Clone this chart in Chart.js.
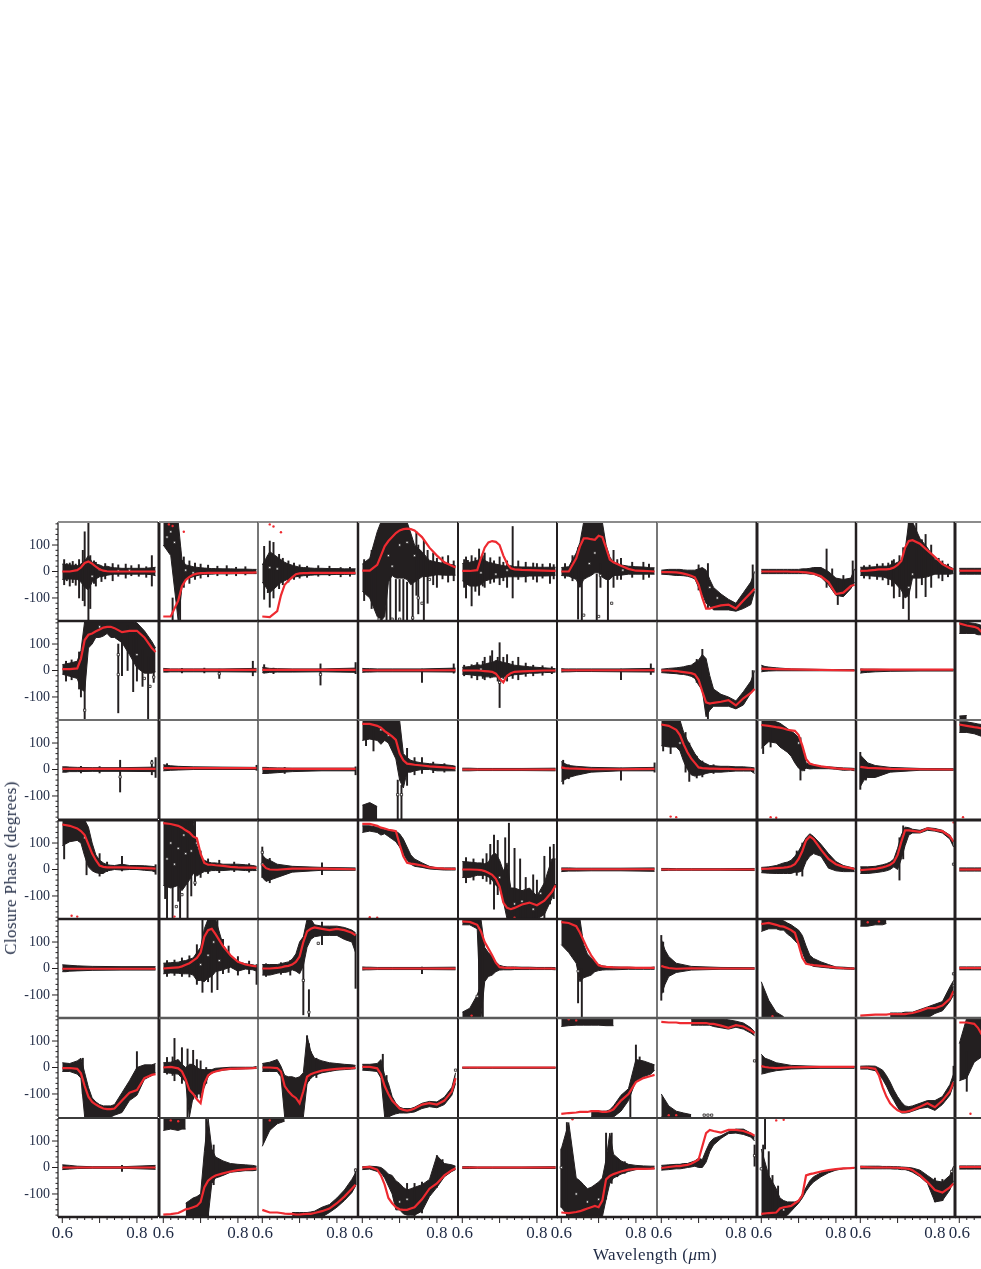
<!DOCTYPE html>
<html>
<head>
<meta charset="utf-8">
<title>Closure Phase</title>
<script src="https://cdn.jsdelivr.net/npm/chart.js@4"></script>
<style>
html, body { margin: 0; background: #fff; }
#plot { position: absolute; left: 0; top: 0; width: 981px; height: 1269px; overflow: hidden; }
#plot canvas { position: absolute; }
.axisTitle { position: absolute; font-family: "Liberation Serif", serif; font-size: 17px; color: #1f2a44; white-space: nowrap; letter-spacing: 0.4px; }
#yTitle { left: 11px; top: 868px; transform: translate(-50%, -50%) rotate(-90deg); }
#xTitle { left: 655px; top: 1255px; transform: translate(-50%, -50%); }
</style>
</head>
<body>
<div id="plot"></div>
<div class="axisTitle" id="yTitle">Closure Phase (degrees)</div>
<div class="axisTitle" id="xTitle">Wavelength (<i>μ</i>m)</div>
<script>
const wavelengths = [0.60,0.62,0.64,0.65,0.66,0.67,0.68,0.69,0.70,0.71,0.72,0.73,0.74,0.76,0.78,0.80,0.82,0.84,0.85];
const flatWavelengths = [0.60,0.61,0.62,0.64,0.68,0.76,0.85];
const edgeWavelengths = [0.60,0.62,0.64,0.65,0.66];
const xLabels = [0.6, 0.8];
const xMajorMarks = [0.6, 0.7, 0.8];
const xMinorMarks = [0.62,0.64,0.66,0.68,0.72,0.74,0.76,0.78,0.82,0.84];
const yLabels = [-100, 0, 100];
const yMinorMarks = [-180,-160,-140,-120,-80,-60,-40,-20,20,40,60,80,120,140,160,180];

// red model curve, one list per panel (row by row, 10 per row)
const redCurves = [
  [0,0,5,15,32,38,30,18,8,3,1,0,0,0,0,0,0,0,0],
  [-170,-170,-110,-55,-32,-20,-12,-8,-6,-6,-5,-5,-5,-5,-5,-5,-4,-4,-3],
  [-170,-172,-150,-90,-50,-35,-22,-10,-7,-6,-6,-5,-5,-5,-5,-5,-5,-5,-5],
  [3,3,25,60,95,115,130,145,155,160,162,160,155,130,90,60,35,22,15],
  [2,2,5,50,90,110,115,112,100,60,30,12,8,6,5,4,3,2,2],
  [0,0,50,95,125,125,122,120,135,130,90,45,35,22,10,3,2,1,0],
  [-2,-2,-3,-5,-8,-12,-16,-22,-50,-100,-140,-140,-135,-128,-125,-140,-110,-80,-65],
  [0,0,0,0,0,0,-1,-1,-1,-2,-3,-5,-8,-18,-40,-85,-80,-55,-50],
  [2,3,6,8,8,8,10,15,25,40,90,115,118,105,80,55,28,12,8],
  [3,3,3,3,3],

  [5,5,8,45,115,135,140,148,155,162,165,165,160,145,150,150,125,85,70],
  [2,2,2,2,2,2,2],
  [2,2,2,2,2,2,2],
  [1,1,1,1,1,1,1],
  [0,0,0,-1,-2,-3,-5,-12,-30,-45,-20,-10,-5,-3,-2,-1,0,0,0],
  [1,1,1,1,1,1,1],
  [0,0,-2,-4,-6,-8,-10,-15,-35,-80,-120,-125,-122,-118,-112,-132,-105,-85,-70],
  [7,6,6,5,4,2,0],
  [3,3,3,3,3,3,3],
  [178,170,165,160,145],

  [2,2,2,2,2,2,2],
  [5,5,5,5,5,5,5],
  [2,2,2,2,2,2,2],
  [172,172,165,158,145,135,125,112,60,35,22,20,18,15,12,10,8,6,4],
  [0,0,0,0,0,0,0],
  [8,5,4,3,1,1,2],
  [170,165,150,130,95,65,42,25,8,5,4,3,3,2,2,1,1,1,0],
  [168,165,160,158,155,150,148,146,130,90,40,22,18,12,8,4,2,1,0],
  [10,8,6,5,2,1,0],
  [170,165,160,158,155],

  [170,165,155,145,130,95,60,35,15,10,8,8,8,8,7,6,5,4,3],
  [175,172,165,158,148,140,125,118,60,25,18,18,16,14,10,8,7,7,6],
  [20,5,0,-1,3,3,1],
  [172,172,165,158,155,150,148,145,95,50,25,22,20,15,8,5,3,2,2],
  [0,0,-1,-2,-6,-12,-20,-35,-65,-125,-145,-150,-145,-132,-125,-135,-118,-85,-60],
  [1,1,1,1,1,1,1],
  [0,0,0,0,0,0,0],
  [2,3,5,6,7,9,12,20,40,70,110,125,115,75,40,20,10,5,2],
  [-2,0,2,5,8,12,18,28,55,105,148,148,146,142,155,150,145,125,105],
  [0,0,0,0,0],

  [-1,-1,-1,-1,-1,-1,-1],
  [0,2,4,8,14,20,30,40,60,120,145,150,130,85,50,25,15,10,8],
  [0,0,2,4,8,10,15,25,45,100,140,150,155,150,145,150,145,135,125],
  [0,0,0,0,0,0,0],
  [178,176,165,140,100,75,50,22,5,3,2,2,2,1,1,0,0,0,-1],
  [175,172,160,135,105,75,50,30,12,8,6,5,4,3,3,2,2,2,2],
  [10,5,2,-1,1,0,0],
  [168,172,165,160,158,152,145,135,90,40,18,15,13,10,7,3,1,0,0],
  [-178,-176,-174,-174,-174,-174,-172,-172,-172,-172,-172,-170,-168,-160,-150,-150,-140,-115,-85],
  [2,2,2,2,2],

  [-2,-2,-5,-22,-70,-110,-130,-140,-148,-155,-157,-157,-155,-125,-95,-85,-40,-28,-25],
  [0,2,-3,-15,-45,-85,-100,-120,-135,-60,-30,-20,-15,-8,-5,-4,-3,-2,-1],
  [0,0,-2,-15,-70,-90,-105,-115,-135,-90,-35,-25,-20,-12,-8,-5,-3,-2,-1],
  [2,2,-3,-25,-70,-100,-125,-140,-155,-160,-163,-160,-155,-140,-135,-140,-125,-90,-40],
  [0,0,0,0,0,0,0],
  [-175,-172,-170,-168,-168,-168,-165,-165,-165,-168,-168,-165,-158,-125,-100,-55,-40,-32,-28],
  [172,170,170,168,168,168,168,168,168,168,168,165,165,158,150,160,155,140,130],
  [5,2,0,-2,1,2,2],
  [0,0,-5,-30,-75,-110,-135,-150,-162,-168,-168,-165,-160,-148,-135,-150,-125,-90,-55],
  [170,170,165,150,125],

  [0,0,0,0,0,0,0],
  [-178,-176,-172,-165,-158,-155,-150,-145,-130,-75,-50,-38,-30,-22,-15,-10,-7,-5,-4],
  [-160,-170,-170,-172,-174,-175,-175,-178,-178,-176,-175,-175,-172,-165,-155,-135,-110,-80,-65],
  [0,2,-8,-30,-65,-115,-135,-150,-158,-160,-160,-155,-150,-120,-80,-60,-30,-10,-3],
  [0,0,0,0,0,0,0],
  [-170,-172,-168,-165,-160,-155,-150,-145,-150,-125,-45,-32,-25,-15,-8,-5,-5,-4,-3],
  [-2,2,5,5,8,10,14,22,30,80,130,142,138,132,142,142,138,128,120],
  [-175,-172,-170,-155,-150,-148,-145,-135,-125,-105,-30,-25,-22,-15,-10,-6,-3,-2,-1],
  [2,1,0,0,0,0,0,-1,-1,-2,-3,-5,-10,-30,-55,-85,-95,-75,-60],
  [2,2,2,2,2]
];

// black error band: lower and upper edge of the measurements, per panel
const bandLow = [
  [-30,-28,-30,-40,-60,-70,-40,-28,-20,-18,-14,-12,-10,-10,-10,-10,-10,-12,-16],
  [100,60,-187,-60,-28,-24,-20,-16,-12,-11,-10,-10,-9,-9,-9,-8,-8,-8,-8],
  [-40,-80,-55,-42,-35,-28,-24,-20,-18,-16,-15,-14,-13,-12,-12,-11,-11,-10,-10],
  [-75,-100,-170,-187,-170,-40,-15,-25,-25,-25,-30,-50,-40,-20,-18,-12,-14,-14,-14],
  [-35,-55,-55,-50,-36,-32,-28,-25,-24,-22,-20,-20,-20,-20,-17,-17,-17,-16,-14],
  [-15,-18,-30,-60,-30,-22,-15,-5,-5,-22,-30,-30,-15,-14,-10,-10,-10,-10,-10],
  [-10,-12,-15,-15,-16,-18,-22,-28,-60,-85,-120,-130,-145,-145,-145,-150,-140,-125,-75],
  [-8,-8,-8,-8,-8,-8,-8,-8,-8,-8,-8,-10,-10,-22,-50,-90,-95,-65,-40],
  [-15,-16,-18,-20,-20,-25,-30,-38,-55,-70,-100,-90,-25,-25,-20,-10,-10,-10,-8],
  [-10,-10,-10,-10,-10],

  [-14,-22,-30,-70,-80,85,100,125,125,130,140,125,125,105,60,10,-10,-10,-5],
  [-6,-6,-5,-5,-5,-5,-6],
  [-8,-9,-7,-6,-6,-5,-7],
  [-7,-6,-6,-5,-5,-5,-6],
  [-14,-16,-20,-20,-24,-24,-24,-24,-28,-24,-24,-20,-16,-14,-10,-10,-8,-7,-6],
  [-6,-5,-5,-4,-4,-5,-6],
  [-8,-10,-12,-14,-15,-18,-22,-30,-55,-75,-175,-150,-135,-135,-135,-145,-130,-85,-70],
  [-5,-3,-2,-1,-1,-1,-1],
  [-10,-8,-7,-5,-3,-2,-2],
  [140,140,140,135,135],

  [-10,-10,-8,-8,-7,-7,-8],
  [-5,-4,-3,-2,0,0,0],
  [-15,-15,-14,-12,-8,-5,-5],
  [110,115,110,95,110,100,70,40,-40,-70,-10,-10,-5,0,0,-5,-5,-5,-5],
  [-5,-5,-5,-4,-4,-4,-5],
  [-45,-38,-30,-22,-10,-5,-5],
  [90,85,85,70,30,0,-20,-25,-22,-20,-15,-12,-10,-10,-8,-6,-6,-6,-15],
  [80,105,100,85,75,65,50,25,5,-5,5,2,3,3,3,1,-3,-2,-5],
  [-65,-40,-30,-30,-10,-3,-3],
  [140,140,135,130,125],

  [90,105,110,100,50,10,-5,-12,-15,-15,-5,-3,0,-2,0,0,-3,-5,-10],
  [-60,-70,-60,-80,-60,-40,-15,-25,-15,-8,-8,-4,-4,-4,-2,-2,-4,-4,-4],
  [-30,-45,-40,-30,-10,-3,-3],
  [140,145,140,130,135,125,115,105,85,60,35,20,12,8,2,0,-2,-2,-2],
  [-30,-30,-22,-22,-22,-28,-40,-60,-70,-120,-187,-187,-187,-187,-187,-187,-170,-110,-55],
  [-8,-7,-6,-6,-5,-5,-7],
  [-4,-4,-3,-3,-3,-3,-4],
  [-12,-14,-15,-15,-15,-15,-15,-10,-10,-5,30,50,60,50,5,-5,-8,-8,-8],
  [-15,-15,-12,-10,-8,-5,0,10,0,40,90,130,138,138,148,145,138,115,85],
  [-6,-6,-6,-6,-6],

  [-12,-12,-10,-9,-7,-6,-6],
  [-20,-17,-18,-20,-20,-20,-25,-45,-45,-50,-35,-30,-12,-5,5,-10,-2,-5,-10],
  [-25,-25,-18,-15,-15,-12,-5,-10,-20,10,80,110,120,125,125,125,110,100,60],
  [-6,-5,-5,-4,-4,-4,-5],
  [165,165,150,-187,-50,-30,-25,-12,-6,-5,-5,-5,-4,-4,-4,-4,-4,-4,-5],
  [90,60,20,-50,-35,-30,-25,-12,-8,-6,-5,-5,-5,-4,-3,-3,-3,-3,-3],
  [-100,-60,-30,-15,-6,-3,-3],
  [140,150,150,145,145,130,120,105,90,60,25,15,8,5,2,-1,-2,-3,-3],
  [null,null,null,null,null,null,-187,-187,-187,-187,-187,-187,-187,-187,-187,-170,-160,-125,-100],
  [-5,-5,-5,-5,-5],

  [-15,-15,-25,-40,-187,-187,-187,-187,-187,-187,-187,-187,-180,-170,-125,-105,-45,-30,-20],
  [-18,-22,-25,-40,-55,-187,-110,-100,-100,-75,-35,-22,-15,-10,-7,-6,-5,-4,-4],
  [-15,-15,-15,-35,-187,-187,-187,-187,-187,-187,-60,-40,-30,-20,-15,-10,-8,-6,-5],
  [-10,-12,-15,-40,-187,-187,-180,-175,-172,-172,-172,-170,-168,-155,-148,-152,-140,-105,-60],
  [-3,-3,-3,-3,-3,-3,-3],
  [null,null,null,null,null,null,-187,-187,-187,-187,-187,-187,-187,-165,-125,-50,-35,-25,-10],
  [null,null,null,null,null,null,160,160,160,160,160,160,155,150,145,152,145,130,120],
  [-25,-22,-18,-12,-6,-3,-3],
  [-6,-6,-12,-25,-45,-70,-100,-125,-150,-172,-172,-170,-165,-155,-150,-162,-140,-105,-65],
  [-50,-40,20,30,40],

  [-8,-7,-6,-4,-3,-3,-7],
  [null,null,null,null,-187,-187,-187,-187,-187,-187,-187,-60,-40,-30,-18,-15,-12,-12,-10],
  [null,null,null,null,null,null,-187,-187,-187,-187,-187,-187,-187,-187,-170,-150,-125,-95,-70],
  [-8,-6,-15,-20,-40,-70,-100,-160,-160,-175,-180,-180,-180,-165,-110,-75,-35,-15,-8],
  [-4,-4,-4,-3,-3,-3,-4],
  [-150,-187,-187,-187,-187,-187,-187,-187,-187,-187,-120,-60,-40,-25,-15,-8,-6,-5,-5],
  [-10,-8,-5,-5,-3,0,2,5,0,0,20,60,85,110,128,130,125,115,100],
  [-187,-187,-187,-187,-187,-180,-165,-150,-135,-115,-90,-70,-55,-35,-20,-10,-5,-3,-2],
  [-5,-5,-5,-5,-5,-5,-5,-6,-6,-8,-8,-12,-18,-35,-60,-130,-125,-85,-50],
  [-6,-6,-6,-6,-6]
];

const bandHigh = [
  [28,25,22,28,40,60,35,28,25,18,20,16,14,12,12,12,12,14,16],
  [187,187,187,45,25,22,18,16,14,13,12,11,11,10,10,9,9,8,8],
  [25,75,55,45,35,28,24,20,16,15,14,13,12,12,11,11,10,10,10],
  [28,50,150,187,187,187,187,187,187,187,187,145,100,75,42,35,30,26,22],
  [30,35,42,55,42,35,32,28,25,22,20,22,18,17,17,16,16,16,16],
  [15,18,70,110,187,187,187,187,187,187,100,55,35,25,20,18,17,14,14],
  [5,8,8,8,6,5,5,5,10,15,5,-30,-60,-85,-105,-120,-80,-40,0],
  [8,8,8,8,8,8,8,8,8,10,10,12,15,15,0,-25,-30,-25,10],
  [16,16,18,20,20,20,25,28,35,42,80,187,187,125,90,45,30,18,10],
  [12,12,12,12,12],

  [22,28,35,75,187,187,187,187,187,187,187,187,187,187,187,180,150,110,85],
  [8,7,6,6,6,6,8],
  [12,10,8,7,6,6,9],
  [8,7,7,6,6,6,9],
  [12,15,22,20,24,28,30,38,35,30,28,24,20,17,14,12,10,8,7],
  [7,6,6,6,6,6,8],
  [5,8,10,12,14,18,20,30,40,60,45,-20,-70,-90,-100,-115,-80,-40,0],
  [20,15,13,10,6,4,3],
  [6,5,5,5,4,4,4],
  [185,182,178,175,170],

  [10,10,9,8,7,7,9],
  [18,16,14,12,10,9,8],
  [8,8,7,6,5,5,5],
  [187,187,187,187,187,187,187,187,187,60,45,35,30,25,22,20,18,15,12],
  [5,5,5,4,4,4,5],
  [30,22,15,12,8,6,8],
  [187,187,187,187,140,110,85,60,40,28,22,15,14,12,12,10,10,8,6],
  [187,187,180,175,165,155,145,135,120,90,25,18,15,12,10,8,6,5,4],
  [55,40,25,15,8,4,3],
  [180,180,175,172,170],

  [187,187,187,187,187,160,100,55,35,25,18,16,15,20,15,15,14,12,10],
  [187,187,187,187,187,187,187,90,50,35,28,25,25,20,20,20,18,15,12],
  [55,40,35,20,12,8,6],
  [165,165,160,155,150,148,146,145,135,115,85,55,40,25,12,6,6,6,6],
  [30,28,25,25,22,28,55,60,35,-5,25,-70,-70,-80,-70,-100,-50,40,40],
  [6,6,6,5,5,5,6],
  [4,4,4,3,3,3,4],
  [8,10,15,20,25,28,35,50,70,95,120,135,125,95,60,30,15,8,5],
  [10,10,12,15,18,22,28,40,80,130,160,158,152,148,158,155,148,130,105],
  [6,6,6,6,6],

  [14,13,12,10,8,7,7],
  [20,22,24,28,30,35,40,60,80,150,187,187,187,90,45,25,18,14,10],
  [15,15,15,18,22,25,35,55,100,120,187,187,165,160,160,160,155,145,135],
  [6,5,5,4,4,4,5],
  [187,187,187,187,80,60,45,25,12,8,6,6,6,5,5,4,4,4,3],
  [187,187,187,187,90,55,40,25,15,10,8,7,6,5,5,4,4,4,6],
  [110,70,45,20,8,4,3],
  [185,187,187,185,180,172,165,155,145,125,85,50,38,25,15,6,5,3,2],
  [null,null,null,null,null,null,-168,-168,-168,-168,-165,-165,-165,-155,-145,-135,-125,-70,-45],
  [6,6,6,6,6],

  [18,15,25,35,-20,-75,-115,-130,-140,-145,-145,-145,-140,-95,-50,0,10,10,15],
  [18,20,30,12,0,12,12,0,-8,-8,-8,-8,-3,-1,1,1,1,1,4],
  [15,20,30,5,-30,-35,-35,-40,-35,-20,120,60,35,25,18,15,12,10,8],
  [12,12,15,30,-30,-60,-110,-135,-150,-155,-155,-155,-150,-135,-128,-130,-112,-75,-20],
  [1,1,1,1,1,1,1],
  [null,null,null,null,null,null,-165,-165,-165,-165,-165,-160,-145,-105,-80,30,25,15,10],
  [null,null,null,null,null,null,182,185,187,187,187,187,187,185,180,175,168,150,135],
  [50,35,30,18,8,4,4],
  [5,6,5,-2,-10,-30,-55,-85,-110,-130,-145,-148,-145,-135,-125,-125,-110,-65,-25],
  [90,187,187,187,187],

  [10,9,8,5,3,3,8],
  [null,null,null,null,-135,-125,-115,-110,-100,60,187,70,40,25,15,12,10,8,5],
  [null,null,null,null,null,null,-170,-170,-170,-170,-170,-168,-165,-150,-140,-115,-85,-45,-20],
  [3,5,3,0,-10,-25,-30,-50,-60,-75,-85,-80,-75,-65,-45,45,15,10,5],
  [3,3,3,2,2,2,3],
  [70,170,-40,-50,-65,-80,-75,-65,-55,-40,30,130,50,25,12,8,6,5,5],
  [8,10,12,12,15,15,20,25,35,30,65,95,110,120,135,145,145,130,118],
  [70,-30,-80,-115,-125,-130,-130,-130,-125,-100,-75,-50,-35,-20,-12,-6,-3,-2,0],
  [5,5,5,5,4,4,4,3,3,2,1,0,-2,-10,-30,-50,-55,-30,5],
  [6,6,6,6,6]
];

// second black patch in panels whose phase wraps round: [panel, wavelengths, low, high]
const wrapBands = [
  [23, [0.60,0.62,0.64], [-187,-187,-187], [-135,-125,-140]],
  [44, [0.60,0.62,0.64,0.65], [-187,-187,-187,-187], [-165,-150,-100,-60]],
  [47, [0.60,0.62,0.64,0.66], [-187,-187,-187,-187], [-50,-120,-165,-182]],
  [48, [0.60,0.62,0.64,0.66,0.67], [160,160,165,165,170], [187,187,187,187,187]],
  [55, [0.60,0.62,0.64,0.66,0.68,0.70,0.72,0.74], [155,158,160,160,160,160,158,158], [187,187,187,187,187,187,187,187]],
  [56, [0.60,0.62,0.64,0.66,0.68], [-187,-187,-187,-187,-187], [-100,-145,-165,-172,-178]],
  [61, [0.60,0.62,0.64,0.65,0.66], [140,145,140,145,145], [187,187,187,187,187]],
  [62, [0.60,0.61,0.62,0.64,0.66], [80,110,140,165,175], [187,187,187,187,187]],
  [19, [0.60,0.62], [-187,-187], [-172,-170]]
];

// single error bars that stick out of the band: [panel, wavelength, low, high]
const spikes = [
  [0,0.605,-50,45],[0,0.612,-35,30],[0,0.62,-55,32],[0,0.628,-42,38],[0,0.636,-52,28],[0,0.645,-100,45],[0,0.655,-110,80],[0,0.66,-130,150],[0,0.67,-187,187],[0,0.675,-140,60],[0,0.685,-45,40],[0,0.69,-55,35],[0,0.705,-38,20],[0,0.715,-28,30],[0,0.735,-35,30],[0,0.75,-18,25],[0,0.77,-25,28],[0,0.785,-16,22],[0,0.805,-18,26],[0,0.825,-22,18],[0,0.84,-55,60],
  [1,0.625,-187,-100],[1,0.645,-187,90],[1,0.655,-60,55],[1,0.67,-45,40],[1,0.685,-30,32],[1,0.70,-25,28],[1,0.72,-20,24],[1,0.745,-16,20],[1,0.77,-16,22],[1,0.795,-16,16],[1,0.82,-13,18],
  [2,0.605,-105,95],[2,0.615,-80,60],[2,0.62,-135,115],[2,0.63,-100,110],[2,0.645,-65,65],[2,0.655,-50,50],[2,0.67,-40,40],[2,0.685,-30,32],[2,0.70,-25,25],[2,0.72,-22,20],[2,0.75,-18,22],[2,0.78,-16,20],[2,0.81,-20,15],[2,0.835,-18,16],
  [3,0.605,-110,45],[3,0.612,-85,35],[3,0.625,-140,80],[3,0.635,-130,110],[3,0.665,-187,-50],[3,0.675,-187,-20],[3,0.69,-187,-30],[3,0.70,-150,-30],[3,0.71,-187,-30],[3,0.72,-187,-40],[3,0.735,-187,-30],[3,0.745,-90,150],[3,0.75,-160,100],[3,0.765,-187,120],[3,0.775,-120,80],[3,0.79,-50,70],[3,0.80,-60,50],[3,0.815,-28,55],[3,0.83,-40,60],[3,0.845,-35,40],
  [4,0.605,-60,45],[4,0.61,-100,55],[4,0.615,-50,42],[4,0.625,-130,60],[4,0.635,-75,52],[4,0.645,-90,85],[4,0.655,-55,60],[4,0.66,-60,70],[4,0.675,-45,52],[4,0.685,-40,40],[4,0.70,-50,55],[4,0.71,-35,35],[4,0.72,-60,40],[4,0.735,-100,170],[4,0.75,-30,40],[4,0.77,-40,35],[4,0.79,-30,32],[4,0.80,-40,30],[4,0.815,-25,28],[4,0.835,-45,30],[4,0.845,-28,26],
  [5,0.61,-25,30],[5,0.63,-35,60],[5,0.645,-180,90],[5,0.655,-187,0],[5,0.695,-187,-10],[5,0.705,-60,30],[5,0.725,-187,0],[5,0.74,-60,80],[5,0.75,-30,45],[5,0.76,-30,50],[5,0.79,-22,35],[5,0.82,-30,35],[5,0.835,-22,28],
  [6,0.725,-140,30],[6,0.845,-90,25],[6,0.70,-70,25],
  [7,0.775,-60,85],[7,0.79,-30,10],[7,0.805,-125,-40],[7,0.845,-40,40],[7,0.82,-90,-15],
  [8,0.61,-25,22],[8,0.625,-28,24],[8,0.645,-30,28],[8,0.66,-32,30],[8,0.675,-50,32],[8,0.685,-55,40],[8,0.69,-100,45],[8,0.705,-95,60],[8,0.715,-140,90],[8,0.73,-187,187],[8,0.75,-100,187],[8,0.765,-50,120],[8,0.775,-95,140],[8,0.79,-60,100],[8,0.81,-25,50],[8,0.82,-35,40],[8,0.835,-20,28],
  [10,0.61,-40,35],[10,0.625,-35,40],[10,0.645,-70,70],[10,0.65,-100,60],[10,0.66,-187,0],[10,0.75,-160,100],[10,0.76,-20,140],[10,0.775,0,170],[10,0.79,-80,150],[10,0.80,-40,130],[10,0.815,-60,80],[10,0.83,-187,50],[10,0.845,-45,75],
  [11,0.75,-30,5],[11,0.84,-20,35],[11,0.65,-9,8],[11,0.71,-9,9],
  [12,0.756,-55,25],[12,0.605,-10,22],[12,0.85,-12,30],[12,0.63,-12,9],
  [13,0.76,-45,5],[13,0.845,-10,25],
  [14,0.605,-20,20],[14,0.625,-28,22],[14,0.64,-35,30],[14,0.655,-30,35],[14,0.66,-35,50],[14,0.675,-28,55],[14,0.68,-25,75],[14,0.70,-140,105],[14,0.695,-40,50],[14,0.71,-30,50],[14,0.72,-40,60],[14,0.735,-30,35],[14,0.75,-35,50],[14,0.77,-22,28],[14,0.79,-20,20],[14,0.815,-18,18],[14,0.84,-12,14],
  [15,0.76,-35,5],[15,0.84,-15,25],
  [16,0.71,-60,80],[16,0.725,-187,-80],[16,0.845,-60,0],[16,0.695,-45,42],
  [20,0.755,-85,35],[20,0.84,-20,35],[20,0.85,-30,45],[20,0.65,-13,12],[20,0.70,-13,11],
  [21,0.61,-3,22],[21,0.85,-3,16],
  [22,0.85,-20,10],[22,0.66,-15,8],
  [23,0.695,-187,-40],[23,0.705,-187,-60],[23,0.72,-60,80],[23,0.74,-20,45],[23,0.76,-15,45],[23,0.79,-12,28],[23,0.82,-10,22],[23,0.61,90,187],[23,0.63,70,187],
  [25,0.76,-40,5],[25,0.85,-10,25],[25,0.605,-55,35],[25,0.62,-35,18],
  [26,0.605,70,187],[26,0.625,60,187],[26,0.665,-10,140],[26,0.675,-45,100],[26,0.695,-32,50],[26,0.71,-28,32],[26,0.74,-15,18],
  [27,0.605,60,187],[27,0.625,85,187],[27,0.705,-40,120],[27,0.715,-5,60],
  [28,0.60,-75,65],[28,0.615,-40,30],
  [30,0.605,40,187],[30,0.665,-20,160],[30,0.70,-25,60],[30,0.76,-5,50],[30,0.72,-8,28],[30,0.85,-18,18],
  [31,0.605,-110,187],[31,0.61,-187,187],[31,0.625,-187,187],[31,0.64,-120,187],[31,0.645,-187,187],[31,0.665,-187,187],[31,0.675,-100,187],[31,0.685,-60,187],[31,0.70,-30,70],[31,0.72,-15,40],[31,0.75,-12,35],[31,0.79,-8,28],[31,0.83,-10,22],
  [32,0.60,-30,85],[32,0.76,-20,25],[32,0.62,-50,42],
  [34,0.61,-50,45],[34,0.63,-40,40],[34,0.655,-35,40],[34,0.665,-45,60],[34,0.675,-55,95],[34,0.685,-150,130],[34,0.695,-95,110],[34,0.715,-30,120],[34,0.725,-130,175],[34,0.74,-187,80],[34,0.755,-187,40],[34,0.77,-187,-30],[34,0.79,-187,-20],[34,0.80,-187,-40],[34,0.82,-187,50],[34,0.835,-130,85],[34,0.845,-110,95],
  [37,0.695,-22,70],[37,0.71,-25,100],
  [38,0.715,40,165],[38,0.705,-40,120],
  [41,0.61,-30,30],[41,0.63,-26,32],[41,0.65,-30,40],[41,0.67,-32,48],[41,0.69,-60,90],[41,0.705,-90,187],[41,0.72,-50,187],[41,0.73,-90,187],[41,0.745,-80,187],[41,0.76,-20,110],[41,0.775,-15,85],[41,0.80,-25,45],[41,0.83,-20,28],[41,0.85,-60,15],
  [42,0.61,-30,18],[42,0.65,-22,22],[42,0.675,-25,30],[42,0.71,-175,60],[42,0.725,-187,-80],[42,0.76,90,175],[42,0.85,-75,130],
  [43,0.76,-20,5],
  [44,0.645,-110,187],[44,0.655,-187,60],
  [45,0.645,-130,60],[45,0.655,-187,0],
  [46,0.60,-120,125],[46,0.605,-90,100],
  [50,0.655,-100,35],[50,0.80,-95,60],
  [51,0.61,-25,38],[51,0.625,-30,40],[51,0.63,-50,110],[51,0.65,-60,75],[51,0.665,-187,70],[51,0.68,-120,65],[51,0.69,-115,30],[51,0.70,-115,25],[51,0.715,-60,0],
  [52,0.72,-60,120],[52,0.725,-50,90],[52,0.73,-40,60],[52,0.745,-38,35],
  [53,0.655,-60,50],[53,0.665,-187,-30],
  [55,0.80,-50,85],[55,0.785,-187,-80],[55,0.81,-35,40],
  [59,0.62,-90,60],
  [60,0.76,-15,8],
  [61,0.715,-187,187],[61,0.72,-187,120],[61,0.735,-65,85],[61,0.75,-35,30],
  [62,0.85,-65,-5],
  [63,0.80,-75,45],[63,0.815,-30,30],[63,0.72,-175,-60],[63,0.76,-172,-55],[63,0.74,-187,-60],
  [65,0.60,-150,70],[65,0.615,-187,170],[65,0.72,-120,130],[65,0.735,-60,130],[65,0.75,-35,35],[65,0.77,-22,22],
  [66,0.85,5,85],
  [67,0.61,70,187],[67,0.605,-187,85],[67,0.62,-187,60],[67,0.63,-187,-30],[67,0.645,-187,-70],
  [68,0.80,-130,-40],[68,0.82,-125,-45],
  [58,0.85,-50,5]
];

// the open square data points that show up outside the band or as specks in it
const openSquares = [
  [0,0.68,-18],[0,0.70,8],[0,0.75,2],[0,0.78,4],[1,0.61,130],[1,0.62,150],[1,0.66,5],[1,0.68,-5],[1,0.63,110],[2,0.64,10],[2,0.62,15],[3,0.645,-180],[3,0.68,-180],[3,0.70,-180],[3,0.735,-175],[3,0.75,-100],[3,0.76,-120],[3,0.78,-30],[3,0.67,60],[3,0.68,20],[3,0.70,100],[3,0.72,110],[3,0.74,60],[4,0.69,-10],[4,0.72,5],[4,0.65,-5],[5,0.66,-165],[5,0.70,-170],[5,0.735,-120],[5,0.765,5],[5,0.675,30],[5,0.69,70],[5,0.705,-15],[6,0.73,-60],[6,0.75,-100],[8,0.73,-60],[8,0.74,-10],
  [10,0.66,-150],[10,0.75,-15],[10,0.75,60],[10,0.80,60],[10,0.82,-30],[10,0.835,-60],[10,0.845,-25],[10,0.70,165],[11,0.75,-12],[12,0.756,-15],[14,0.70,-45],[14,0.65,5],[20,0.755,-28],[20,0.84,25],
  [23,0.695,-95],[23,0.705,-95],[23,0.65,150],[23,0.67,130],[26,0.65,100],[27,0.70,100],[30,0.66,120],[31,0.62,100],[31,0.64,80],[31,0.65,-95],[31,0.635,-140],[31,0.66,60],[31,0.685,-50],[31,0.61,40],[31,0.63,20],[31,0.655,130],[31,0.675,70],[31,0.69,100],[32,0.60,65],[32,0.60,20],[34,0.70,-30],[34,0.74,-130],[34,0.76,-120],[34,0.79,-150],[34,0.81,-90],
  [38,0.85,20],[41,0.70,15],[41,0.72,50],[41,0.735,100],[41,0.75,30],[42,0.71,-45],[42,0.725,-165],[42,0.75,95],[44,0.64,-105],[45,0.645,-10],[48,0.85,-20],[48,0.85,-65],[53,0.85,-10],[56,0.85,25],[56,0.715,-180],[56,0.725,-180],[56,0.735,-180],[62,0.85,-10],[65,0.60,0],[65,0.64,-100],[65,0.67,-130],[65,0.70,-120],[66,0.85,45],[67,0.60,-5],[67,0.66,-160],[68,0.845,-15],[63,0.72,-120],[63,0.70,-130]
];

// loose red points that wrapped to the other side of the panel
const redDots = [
  [1,0.615,178],[1,0.625,172],[1,0.655,150],[2,0.62,178],[2,0.63,170],[2,0.65,148],[26,0.625,-178],[26,0.64,-180],[27,0.625,-180],[27,0.64,-182],[29,0.61,-180],[30,0.625,-175],[30,0.64,-178],[31,0.63,-178],[33,0.62,-180],[33,0.64,-182],[44,0.625,-178],[47,0.63,-180],[48,0.62,175],[48,0.65,178],[59,0.63,-175],[55,0.62,182],[55,0.64,178],[56,0.62,-180],[56,0.64,-180],[61,0.62,178],[61,0.64,175],[62,0.62,178],[65,0.63,182],[67,0.64,178],[67,0.66,180],[38,0.85,178],[34,0.74,-182]
];

const colX = [58, 159, 258, 358, 458, 557, 657, 757, 856, 955];
const rowY = [522, 621, 720, 820, 919, 1018, 1118];
const colLine = [1.5, 3, 1.5, 2.5, 2, 2, 1.5, 3, 2.5, 3];
const rowLine = [2, 2.5, 2, 3, 2.5, 2.5, 2];
const rowColor = ['#8c8c8c', '#231f20', '#6e6e6e', '#231f20', '#231f20', '#5a5a5a', '#3c3c3c'];

const INK = '#231f20';
const RED = '#ee2a30';
const LABEL = '#1f2a44';
const PANEL_W = 100;
const PANEL_H = 99;

function gridFor(values) {
    if (values.length === flatWavelengths.length) return flatWavelengths;
    if (values.length === edgeWavelengths.length) return edgeWavelengths;
    return wavelengths;
}

function toPoints(xs, ys) {
    return ys.map((y, i) => ({ x: xs[i], y }));
}

function bandDatasets(xs, low, high) {
    const common = { pointRadius: 0, borderColor: INK, backgroundColor: INK, borderWidth: 1, tension: 0, order: 3 };
    return [
        { ...common, data: toPoints(xs, high), fill: '+1' },
        { ...common, data: toPoints(xs, low), fill: false }
    ];
}

function buildDatasets(id) {
    const xs = gridFor(redCurves[id]);
    let datasets = bandDatasets(xs, bandLow[id], bandHigh[id]);

    for (const [panel, wx, low, high] of wrapBands) {
        if (panel === id) datasets = datasets.concat(bandDatasets(wx, low, high));
    }

    const bars = spikes.filter((s) => s[0] === id).map((s) => ({ x: s[1], y: [s[2], s[3]] }));
    if (bars.length) {
        datasets.push({ type: 'bar', data: bars, backgroundColor: INK, barThickness: 1.3, grouped: false, order: 2 });
    }

    const squares = openSquares.filter((s) => s[0] === id).map((s) => ({ x: s[1], y: s[2] }));
    if (squares.length) {
        datasets.push({
            data: squares, showLine: false, pointStyle: 'rect', pointRadius: 1.6,
            pointBackgroundColor: '#fff', pointBorderColor: INK, pointBorderWidth: 0.8, order: 1
        });
    }

    const dots = redDots.filter((s) => s[0] === id).map((s) => ({ x: s[1], y: s[2] }));
    if (dots.length) {
        datasets.push({ data: dots, showLine: false, pointRadius: 1.2, pointBackgroundColor: RED, pointBorderWidth: 0, order: 0 });
    }

    datasets.push({ data: toPoints(xs, redCurves[id]), borderColor: RED, borderWidth: 2.2, pointRadius: 0, tension: 0, fill: false, order: 0 });
    return datasets;
}

// frame lines and tick marks, the reference has long and short ticks so they go here
const framePlugin = {
    id: 'frame',
    afterDraw(chart, args, opts) {
        const { ctx, chartArea: a, scales } = chart;
        ctx.save();
        ctx.lineWidth = opts.leftWidth;
        ctx.strokeStyle = opts.leftWidth < 2 ? '#4a4a4a' : INK;
        ctx.beginPath();
        ctx.moveTo(a.left, a.top);
        ctx.lineTo(a.left, a.bottom);
        ctx.stroke();
        ctx.lineWidth = opts.topWidth;
        ctx.strokeStyle = opts.topColor;
        ctx.beginPath();
        ctx.moveTo(a.left, a.top);
        ctx.lineTo(a.right, a.top);
        ctx.stroke();
        ctx.strokeStyle = INK;
        ctx.lineWidth = 1;
        if (opts.firstCol) {
            for (const v of yLabels) tickY(ctx, a.left, scales.y.getPixelForValue(v), 6);
            for (const v of yMinorMarks) tickY(ctx, a.left, scales.y.getPixelForValue(v), 2.5);
        }
        if (opts.lastRow) {
            ctx.lineWidth = 2.5;
            ctx.beginPath();
            ctx.moveTo(a.left, a.bottom);
            ctx.lineTo(a.right, a.bottom);
            ctx.stroke();
            ctx.lineWidth = 1;
            for (const v of xMajorMarks) tickX(ctx, scales.x.getPixelForValue(v), a.bottom, 6);
            for (const v of xMinorMarks) tickX(ctx, scales.x.getPixelForValue(v), a.bottom, 3);
        }
        ctx.restore();
    }
};

function tickY(ctx, x, y, len) {
    ctx.beginPath();
    ctx.moveTo(x - len, y);
    ctx.lineTo(x, y);
    ctx.stroke();
}

function tickX(ctx, x, y, len) {
    ctx.beginPath();
    ctx.moveTo(x, y);
    ctx.lineTo(x, y + len);
    ctx.stroke();
}

function clearPadding(scale) {
    scale.paddingLeft = 0;
    scale.paddingRight = 0;
    scale.paddingTop = 0;
    scale.paddingBottom = 0;
}

function buildPanel(row, col) {
    const id = row * 10 + col;
    const firstCol = col === 0;
    const lastRow = row === rowY.length - 1;
    const marginL = firstCol ? 58 : 14;
    const marginB = lastRow ? 32 : 0;
    const tickFamily = '"Liberation Serif", serif';

    const canvas = document.createElement('canvas');
    canvas.width = marginL + PANEL_W + 2;
    canvas.height = PANEL_H + marginB + 4;
    canvas.style.left = (colX[col] - marginL) + 'px';
    canvas.style.top = (rowY[row] - 2) + 'px';
    document.getElementById('plot').appendChild(canvas);

    new Chart(canvas, {
        type: 'line',
        data: { datasets: buildDatasets(id) },
        plugins: [framePlugin],
        options: {
            responsive: false,
            animation: false,
            events: [],
            layout: { autoPadding: false, padding: { top: 2, right: 2, bottom: 2, left: 0 } },
            plugins: {
                legend: { display: false },
                tooltip: { enabled: false },
                frame: {
                    leftWidth: colLine[col], topWidth: rowLine[row], topColor: rowColor[row],
                    firstCol, lastRow
                }
            },
            scales: {
                x: {
                    type: 'linear', min: 0.5885, max: 0.8565, offset: false,
                    grid: { display: false, drawTicks: false },
                    border: { display: false },
                    afterBuildTicks: (s) => { s.ticks = xLabels.map((v) => ({ value: v })); },
                    afterFit: (s) => { s.height = marginB; clearPadding(s); },
                    ticks: {
                        display: lastRow, padding: 6, maxRotation: 0, autoSkip: false,
                        font: { family: tickFamily, size: 17 }, color: LABEL,
                        callback: (v) => Number(v).toFixed(1)
                    }
                },
                y: {
                    min: -187, max: 187,
                    grid: { display: false, drawTicks: false },
                    border: { display: false },
                    afterBuildTicks: (s) => { s.ticks = yLabels.map((v) => ({ value: v })); },
                    afterFit: (s) => { s.width = marginL; clearPadding(s); },
                    ticks: {
                        display: firstCol, padding: 8, autoSkip: false,
                        font: { family: tickFamily, size: 14 }, color: LABEL,
                        callback: (v) => String(v)
                    }
                }
            }
        }
    });
}

for (let row = 0; row < rowY.length; row++) {
    for (let col = 0; col < colX.length; col++) {
        buildPanel(row, col);
    }
}
</script>
</body>
</html>
